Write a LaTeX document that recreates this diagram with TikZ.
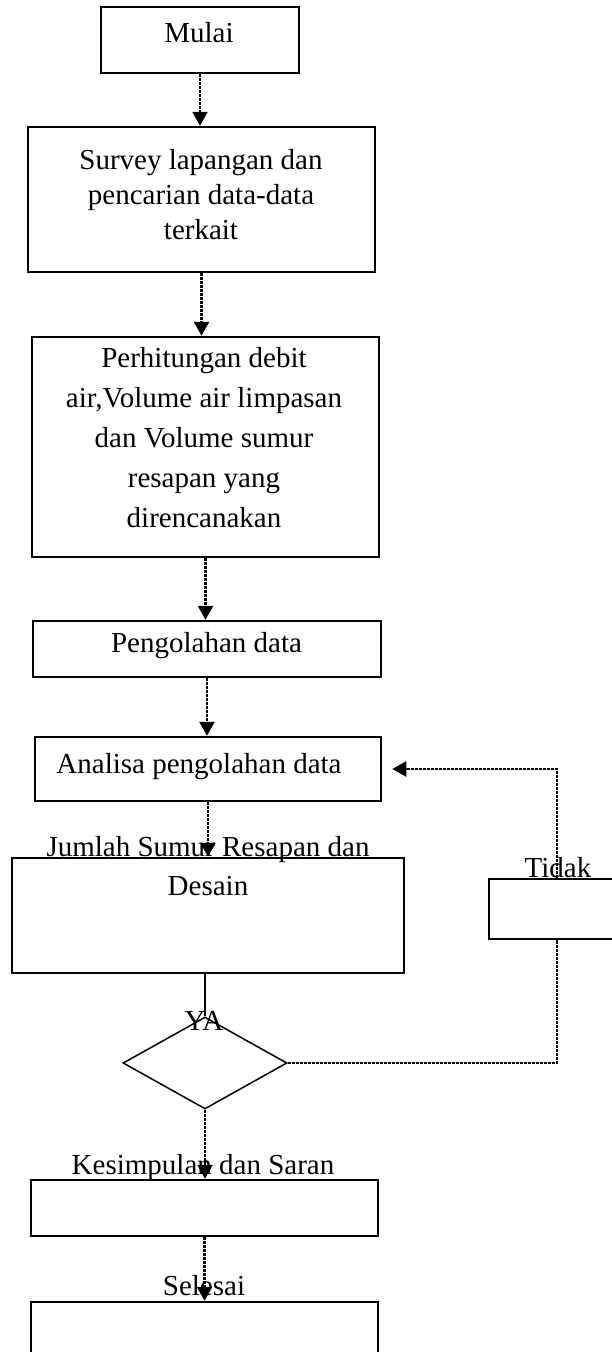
\documentclass[tikz,border=0pt]{standalone}
\usepackage{fontspec}
\setmainfont{Liberation Serif}
\usetikzlibrary{shapes.geometric,arrows.meta}

\begin{document}
\begin{tikzpicture}[x=1pt, y=-1pt, line width=2.5pt,
	every node/.style={inner sep=0pt, font=\fontsize{29}{38}\selectfont},
	box/.style={draw, rectangle},
	lbl/.style={anchor=base},
	link/.style={dash pattern=on 3pt off 1pt, line width=2.5pt},
	flow/.style={link, -{Triangle[length=14pt, width=15pt]}}]
	\clip (0,0) rectangle (612,1352);
	% kotak proses
	\node[box, minimum width=198pt, minimum height=66pt] (mulai) at (200,40) {};
	\node[box, minimum width=347pt, minimum height=145pt] (survey) at (201.5,199.5) {};
	\node[box, minimum width=347pt, minimum height=220pt] (hitung) at (205.5,447) {};
	\node[box, minimum width=348pt, minimum height=56pt] (olah) at (207,649) {};
	\node[box, minimum width=346pt, minimum height=64pt] (analisa) at (208,769) {};
	\node[box, minimum width=392pt, minimum height=115pt] (jumlah) at (208,915.5) {};
	\node[box, line width=1.2pt, minimum width=136pt, minimum height=60pt] (tidak) at (557,909) {};
	\node[draw, diamond, line width=1.5pt, minimum width=164pt, minimum height=92pt] (cek) at (205,1063) {};
	\node[box, minimum width=347pt, minimum height=56pt] (simpul) at (204.5,1208) {};
	\node[box, minimum width=347pt, minimum height=60pt] (selesai) at (204.5,1332) {};
	% teks
	\node[lbl] (mulai-t) at (199,42) {Mulai};
	\node[align=center, font=\fontsize{29}{35}\selectfont] (survey-t) at (201,195) {Survey lapangan dan\\pencarian data-data\\terkait};
	\node[align=center, font=\fontsize{29}{40}\selectfont] (hitung-t) at (204,438) {Perhitungan debit\\air,Volume air limpasan\\dan Volume sumur\\resapan yang\\direncanakan};
	\node[lbl] (olah-t) at (206.5,652) {Pengolahan data};
	\node[lbl] (analisa-t) at (199,773) {Analisa pengolahan data};
	\node[align=center, font=\fontsize{29}{39}\selectfont] (jumlah-t) at (208,866.5) {Jumlah Sumur Resapan dan\\Desain};
	\node[lbl] (tidak-t) at (558,877) {Tidak};
	\node[lbl] (ya-t) at (204,1030) {YA};
	\node[lbl] (simpul-t) at (203,1174) {Kesimpulan dan Saran};
	\node[lbl] (selesai-t) at (204,1295) {Selesai};
	% alur
	\draw[flow] (mulai.south) -- (mulai.south |- survey.north);
	\draw[flow] (survey.south) -- (survey.south |- hitung.north);
	\draw[flow] (hitung.south) -- (hitung.south |- olah.north);
	\draw[flow] (olah.south) -- (olah.south |- analisa.north);
	\draw[flow] (analisa.south) -- (analisa.south |- jumlah.north);
	\draw (jumlah.south -| cek.north) -- (cek.north);
	\draw[flow] (cek.south) -- (cek.south |- simpul.north);
	\draw[flow] (simpul.south) -- (simpul.south |- selesai.north);
	% kembali bila tidak
	\draw[link] (cek.east) -| (tidak.south);
	\draw[flow, shorten >=10pt] (tidak.north) |- (analisa.east);
\end{tikzpicture}
\end{document}
